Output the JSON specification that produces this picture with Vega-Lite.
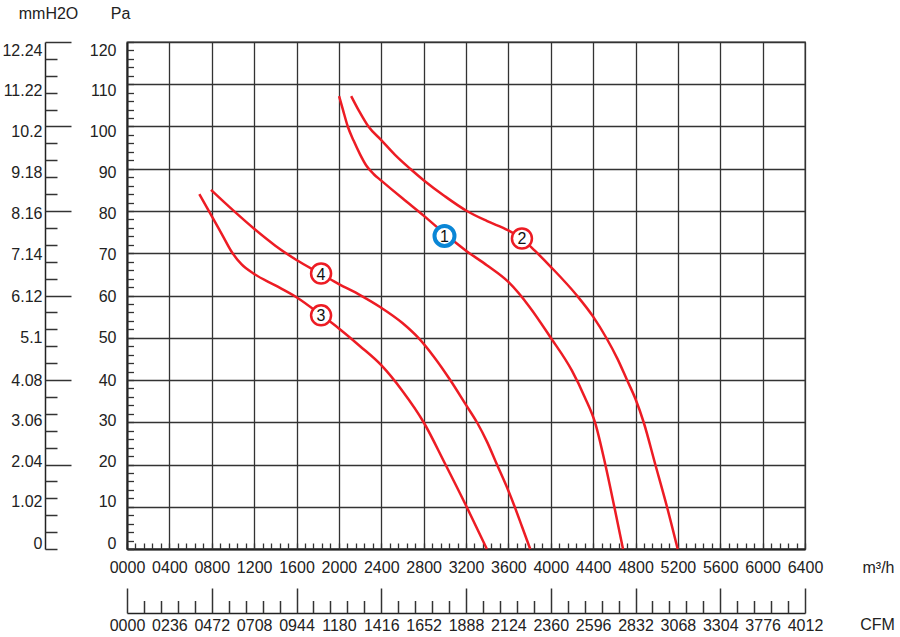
{
  "$schema": "https://vega.github.io/schema/vega-lite/v6.json",
  "width": 678,
  "height": 507,
  "autosize": "none",
  "padding": {"left": 127, "top": 42, "right": 95, "bottom": 88},
  "background": "white",
  "datasets": {
    "curves": [
      {"curve": "1", "q": 2002, "p": 107.2}, {"curve": "1", "q": 2040, "p": 103.8}, {"curve": "1", "q": 2084, "p": 100},
      {"curve": "1", "q": 2140, "p": 96.6}, {"curve": "1", "q": 2200, "p": 93.4}, {"curve": "1", "q": 2260, "p": 90.7},
      {"curve": "1", "q": 2330, "p": 88.7}, {"curve": "1", "q": 2400, "p": 87.2}, {"curve": "1", "q": 2600, "p": 83},
      {"curve": "1", "q": 2800, "p": 78.9}, {"curve": "1", "q": 3000, "p": 74.6}, {"curve": "1", "q": 3200, "p": 70.6},
      {"curve": "1", "q": 3400, "p": 67.1}, {"curve": "1", "q": 3600, "p": 63.2}, {"curve": "1", "q": 3800, "p": 57.3},
      {"curve": "1", "q": 4000, "p": 50}, {"curve": "1", "q": 4200, "p": 42.2}, {"curve": "1", "q": 4320, "p": 36},
      {"curve": "1", "q": 4420, "p": 29.8}, {"curve": "1", "q": 4515, "p": 20}, {"curve": "1", "q": 4600, "p": 10},
      {"curve": "1", "q": 4682, "p": 0},
      {"curve": "2", "q": 2116, "p": 107.2}, {"curve": "2", "q": 2190, "p": 103.7}, {"curve": "2", "q": 2279, "p": 100},
      {"curve": "2", "q": 2400, "p": 96.8}, {"curve": "2", "q": 2530, "p": 93.3}, {"curve": "2", "q": 2673, "p": 90},
      {"curve": "2", "q": 2800, "p": 87.3}, {"curve": "2", "q": 3000, "p": 83.5}, {"curve": "2", "q": 3208, "p": 80},
      {"curve": "2", "q": 3400, "p": 77.6}, {"curve": "2", "q": 3600, "p": 75.4}, {"curve": "2", "q": 3730, "p": 73.4},
      {"curve": "2", "q": 3850, "p": 70.6}, {"curve": "2", "q": 4000, "p": 66.8}, {"curve": "2", "q": 4247, "p": 60},
      {"curve": "2", "q": 4400, "p": 55}, {"curve": "2", "q": 4524, "p": 50}, {"curve": "2", "q": 4630, "p": 45},
      {"curve": "2", "q": 4720, "p": 40}, {"curve": "2", "q": 4800, "p": 35.5}, {"curve": "2", "q": 4877, "p": 30},
      {"curve": "2", "q": 4987, "p": 20}, {"curve": "2", "q": 5097, "p": 10}, {"curve": "2", "q": 5198, "p": 0},
      {"curve": "3", "q": 683, "p": 84}, {"curve": "3", "q": 800, "p": 78.8}, {"curve": "3", "q": 900, "p": 74.3},
      {"curve": "3", "q": 989, "p": 70.3}, {"curve": "3", "q": 1080, "p": 67.4}, {"curve": "3", "q": 1200, "p": 65.1},
      {"curve": "3", "q": 1400, "p": 62.4}, {"curve": "3", "q": 1600, "p": 59.6}, {"curve": "3", "q": 1832, "p": 55.4},
      {"curve": "3", "q": 2000, "p": 52.2}, {"curve": "3", "q": 2200, "p": 48}, {"curve": "3", "q": 2400, "p": 43.5},
      {"curve": "3", "q": 2600, "p": 37.4}, {"curve": "3", "q": 2800, "p": 30}, {"curve": "3", "q": 3000, "p": 20.3},
      {"curve": "3", "q": 3200, "p": 10.3}, {"curve": "3", "q": 3397, "p": 0},
      {"curve": "4", "q": 793, "p": 85}, {"curve": "4", "q": 1000, "p": 80.2}, {"curve": "4", "q": 1200, "p": 75.8},
      {"curve": "4", "q": 1400, "p": 71.8}, {"curve": "4", "q": 1600, "p": 68.4}, {"curve": "4", "q": 1832, "p": 65.1},
      {"curve": "4", "q": 2000, "p": 62.7}, {"curve": "4", "q": 2200, "p": 60.1}, {"curve": "4", "q": 2400, "p": 57.1},
      {"curve": "4", "q": 2600, "p": 53.5}, {"curve": "4", "q": 2742, "p": 50.2}, {"curve": "4", "q": 2900, "p": 45.4},
      {"curve": "4", "q": 3051, "p": 40}, {"curve": "4", "q": 3200, "p": 34.1}, {"curve": "4", "q": 3303, "p": 30},
      {"curve": "4", "q": 3400, "p": 25.3}, {"curve": "4", "q": 3492, "p": 20}, {"curve": "4", "q": 3600, "p": 13.8},
      {"curve": "4", "q": 3655, "p": 10.3}, {"curve": "4", "q": 3730, "p": 5.2}, {"curve": "4", "q": 3806, "p": 0}
    ],
    "labels": [
      {"id": "1", "q": 2997, "p": 74.1},
      {"id": "2", "q": 3728, "p": 73.5},
      {"id": "3", "q": 1832, "p": 55.3},
      {"id": "4", "q": 1832, "p": 65.2}
    ]
  },
  "resolve": {"axis": {"x": "independent", "y": "independent"}},
  "layer": [
    {
      "data": {"name": "curves"},
      "mark": {"type": "line", "color": "#ed1c24", "strokeWidth": 2.5, "interpolate": "monotone"},
      "encoding": {
        "x": {
          "field": "q", "type": "quantitative",
          "scale": {"domain": [0, 6400], "nice": false},
          "axis": {
            "orient": "bottom",
            "values": [0, 400, 800, 1200, 1600, 2000, 2400, 2800, 3200, 3600, 4000, 4400, 4800, 5200, 5600, 6000, 6400],
            "format": "04d",
            "grid": true, "gridColor": "#333", "gridWidth": 1.3,
            "ticks": false,
            "domainColor": "#222", "domainWidth": 2,
            "labelPadding": 10, "labelFlush": false, "labelOverlap": false, "labelBound": false,
            "title": "m³/h", "titleX": 751, "titleY": 18, "titleAlign": "center", "titleBaseline": "middle"
          }
        },
        "y": {
          "field": "p", "type": "quantitative",
          "scale": {"domain": [0, 120], "nice": false},
          "axis": {
            "orient": "left",
            "values": [0, 10, 20, 30, 40, 50, 60, 70, 80, 90, 100, 110, 120],
            "grid": true, "gridColor": "#333", "gridWidth": 1.3,
            "ticks": false,
            "domainColor": "#222", "domainWidth": 2,
            "labelPadding": 11, "labelOverlap": false, "labelBound": false,
            "labelOffset": {"condition": [
              {"test": "datum.value == 120", "value": 8},
              {"test": "datum.value == 110", "value": 6.5},
              {"test": "datum.value == 100", "value": 5},
              {"test": "datum.value == 90", "value": 3.5},
              {"test": "datum.value == 80", "value": 2},
              {"test": "datum.value == 70", "value": 1.5},
              {"test": "datum.value == 60", "value": 1},
              {"test": "datum.value == 30", "value": -2},
              {"test": "datum.value == 20", "value": -3},
              {"test": "datum.value == 10", "value": -5},
              {"test": "datum.value == 0", "value": -6}
            ], "value": 0},
            "title": "Pa", "titleAngle": 0, "titleX": -7, "titleY": -29, "titleAlign": "center", "titleBaseline": "middle"
          }
        },
        "detail": {"field": "curve"},
        "order": {"field": "q", "type": "quantitative"}
      }
    },
    {
      "data": {"name": "labels"},
      "transform": [{"filter": "datum.id != '1'"}],
      "mark": {"type": "point", "shape": "circle", "fill": "white", "stroke": "#ed1c24", "strokeWidth": 2.5, "size": 400, "opacity": 1},
      "encoding": {
        "x": {
          "field": "q", "type": "quantitative",
          "scale": {"domain": [0, 6400], "nice": false},
          "axis": {
            "orient": "bottom",
            "values": [0,80,160,240,320,400,480,560,640,720,800,880,960,1040,1120,1200,1280,1360,1440,1520,1600,1680,1760,1840,1920,2000,2080,2160,2240,2320,2400,2480,2560,2640,2720,2800,2880,2960,3040,3120,3200,3280,3360,3440,3520,3600,3680,3760,3840,3920,4000,4080,4160,4240,4320,4400,4480,4560,4640,4720,4800,4880,4960,5040,5120,5200,5280,5360,5440,5520,5600,5680,5760,5840,5920,6000,6080,6160,6240,6320,6400],
            "labels": false, "domain": false, "grid": false,
            "tickSize": -6, "tickColor": "#333", "tickWidth": 1.3,
            "title": null
          }
        },
        "y": {
          "field": "p", "type": "quantitative",
          "scale": {"domain": [0, 120], "nice": false},
          "axis": {
            "orient": "left",
            "values": [0,2,4,6,8,10,12,14,16,18,20,22,24,26,28,30,32,34,36,38,40,42,44,46,48,50,52,54,56,58,60,62,64,66,68,70,72,74,76,78,80,82,84,86,88,90,92,94,96,98,100,102,104,106,108,110,112,114,116,118,120],
            "labels": false, "domain": false, "grid": false,
            "tickSize": -6.5, "tickColor": "#333", "tickWidth": 1.3,
            "title": null
          }
        }
      }
    },
    {
      "data": {"name": "labels"},
      "transform": [{"filter": "datum.id == '1'"}],
      "mark": {"type": "point", "shape": "circle", "fill": "white", "stroke": "#0a86d6", "strokeWidth": 4, "size": 400, "opacity": 1},
      "encoding": {
        "x": {
          "field": "q", "type": "quantitative",
          "scale": {"domain": [0, 6400], "nice": false},
          "axis": {
            "orient": "bottom", "offset": 64,
            "values": [0, 400, 800, 1200, 1600, 2000, 2400, 2800, 3200, 3600, 4000, 4400, 4800, 5200, 5600, 6000, 6400],
            "labelExpr": "['0000','0236','0472','0708','0944','1180','1416','1652','1888','2124','2360','2596','2832','3068','3304','3776','4012'][round(datum.value / 400)]",
            "ticks": false, "grid": false,
            "domainColor": "#222", "domainWidth": 1.5,
            "labelPadding": 4, "labelFlush": false, "labelOverlap": false, "labelBound": false,
            "title": "CFM", "titleX": 750, "titleY": 11, "titleAlign": "center", "titleBaseline": "middle"
          }
        },
        "y": {
          "field": "p", "type": "quantitative",
          "scale": {"domain": [0, 120], "nice": false},
          "axis": {
            "orient": "left", "offset": 82,
            "values": [0, 10, 20, 30, 40, 50, 60, 70, 80, 90, 100, 110, 120],
            "labelExpr": "format(datum.value * 0.102, '.2~f')",
            "ticks": false, "grid": false,
            "domainColor": "#222", "domainWidth": 1.5,
            "labelPadding": 3, "labelOverlap": false, "labelBound": false,
            "labelOffset": {"condition": [
              {"test": "datum.value == 120", "value": 8},
              {"test": "datum.value == 110", "value": 6.5},
              {"test": "datum.value == 100", "value": 5},
              {"test": "datum.value == 90", "value": 3.5},
              {"test": "datum.value == 80", "value": 2},
              {"test": "datum.value == 70", "value": 1.5},
              {"test": "datum.value == 60", "value": 1},
              {"test": "datum.value == 30", "value": -2},
              {"test": "datum.value == 20", "value": -3},
              {"test": "datum.value == 10", "value": -5},
              {"test": "datum.value == 0", "value": -6}
            ], "value": 0},
            "title": "mmH2O", "titleAngle": 0, "titleX": 3, "titleY": -29, "titleAlign": "center", "titleBaseline": "middle"
          }
        }
      }
    },
    {
      "data": {"name": "labels"},
      "mark": {"type": "text", "fontSize": 16, "color": "#111", "align": "center", "baseline": "middle", "dy": 1},
      "encoding": {
        "text": {"field": "id"},
        "x": {
          "field": "q", "type": "quantitative",
          "scale": {"domain": [0, 6400], "nice": false},
          "axis": {
            "orient": "bottom", "offset": 64,
            "values": [0,160,320,480,640,800,960,1120,1280,1440,1600,1760,1920,2080,2240,2400,2560,2720,2880,3040,3200,3360,3520,3680,3840,4000,4160,4320,4480,4640,4800,4960,5120,5280,5440,5600,5760,5920,6080,6240,6400],
            "labels": false, "domain": false, "grid": false,
            "tickSize": {"condition": {"test": "datum.value % 800 === 0", "value": -25}, "value": -12.5},
            "tickColor": "#333", "tickWidth": 1.5,
            "title": null
          }
        },
        "y": {
          "field": "p", "type": "quantitative",
          "scale": {"domain": [0, 120], "nice": false},
          "axis": {
            "orient": "left", "offset": 82,
            "values": [0,4,8,12,16,20,24,28,32,36,40,44,48,52,56,60,64,68,72,76,80,84,88,92,96,100,104,108,112,116,120],
            "labels": false, "domain": false, "grid": false,
            "tickSize": {"condition": {"test": "datum.value % 20 === 0 && datum.value > 0", "value": -26}, "value": -12},
            "tickColor": "#333", "tickWidth": 1.5,
            "title": null
          }
        }
      }
    }
  ],
  "config": {
    "font": "Liberation Sans",
    "view": {"stroke": "#333", "strokeWidth": 1.3},
    "axis": {
      "labelFont": "Liberation Sans", "labelFontSize": 16, "labelColor": "#222",
      "titleFont": "Liberation Sans", "titleFontSize": 16, "titleFontWeight": "normal", "titleColor": "#222"
    }
  }
}
